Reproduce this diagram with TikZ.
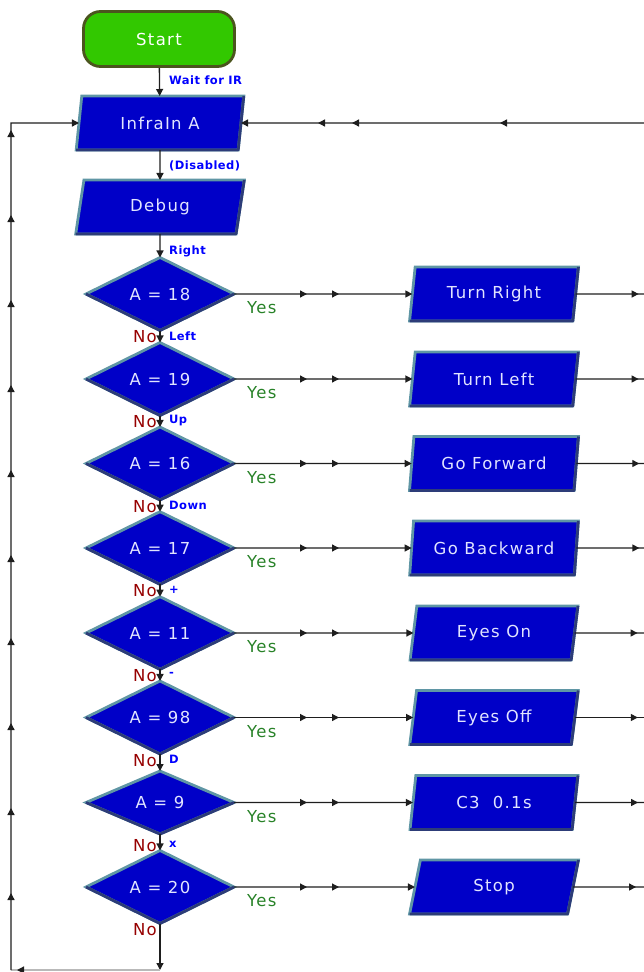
\documentclass[tikz,border=0pt]{standalone}
\usepackage{fontspec}
\setmainfont{DejaVu Sans}
\newfontfamily\boxfont[LetterSpace=8]{DejaVu Sans}
\newfontfamily\lblfont[LetterSpace=4]{DejaVu Sans}
\usetikzlibrary{shapes.geometric,arrows.meta,decorations.markings}

\definecolor{boxfill}{RGB}{0,0,200}
\definecolor{boxedge}{RGB}{95,150,165}
\definecolor{boxdark}{RGB}{45,60,120}
\definecolor{boxtext}{RGB}{225,228,255}
\definecolor{startfill}{RGB}{50,200,0}
\definecolor{startedge}{RGB}{75,85,30}
\definecolor{lblblue}{RGB}{0,0,255}
\definecolor{nored}{RGB}{150,0,0}
\definecolor{yesgreen}{RGB}{40,130,40}
\definecolor{wirecol}{RGB}{30,30,30}
\definecolor{wiregrey}{RGB}{185,185,185}

\tikzset{
  >={Triangle[length=7pt,width=7pt]},
  bigtext/.style={font=\boxfont\fontsize{16.5}{19}\selectfont},
  startbox/.style={rectangle, rounded corners=17pt, fill=startfill, draw=startedge,
    line width=2.8pt, minimum width=151pt, minimum height=55pt, text=white, bigtext},
  iobox/.style={trapezium, trapezium left angle=81, trapezium right angle=99,
    trapezium stretches=true, fill=boxfill, draw=boxedge, line width=2.8pt,
    minimum width=169pt, minimum height=54pt, outer sep=0pt, text=boxtext, bigtext},
  decision/.style={diamond, fill=boxfill, draw=boxedge, line width=2.8pt,
    minimum width=148pt, minimum height=63pt, inner sep=0pt, outer sep=0pt,
    text=boxtext, bigtext},
  wire/.style={draw=wirecol, line width=1.3pt},
  bevel/.style={draw=boxdark, line width=2.8pt, line join=round},
  lbl/.style={font=\lblfont\bfseries\fontsize{11.5}{13}\selectfont, text=lblblue,
    anchor=west, inner sep=0pt},
  nolbl/.style={bigtext, text=nored, anchor=east, inner sep=0pt},
  yeslbl/.style={bigtext, text=yesgreen, anchor=west, inner sep=0pt},
}

\begin{document}
\begin{tikzpicture}[x=1pt,y=-1pt]
\useasboundingbox (0,0) rectangle (644,972);

% main column
\node[startbox] (start) at (159,39) {Start};
\node[iobox] (infra) at (160,123) {InfraIn A};
\node[iobox] (debug) at (160,207) {Debug};

\node[decision] (d1) at (160,294) {A = 18};
\node[decision] (d2) at (160,379) {A = 19};
\node[decision] (d3) at (160,463.5) {A = 16};
\node[decision] (d4) at (160,548) {A = 17};
\node[decision] (d5) at (160,633) {A = 11};
\node[decision] (d6) at (160,717.5) {A = 98};
\node[decision] (d7) at (160,802.5) {A = 9};
\node[decision] (d8) at (160,887) {A = 20};

\node[iobox] (b1) at (494,294) {Turn Right};
\node[iobox] (b2) at (494,379) {Turn Left};
\node[iobox] (b3) at (494,463.5) {Go Forward};
\node[iobox] (b4) at (494,548) {Go Backward};
\node[iobox] (b5) at (494,633) {Eyes On};
\node[iobox] (b6) at (494,717.5) {Eyes Off};
\node[iobox] (b7) at (494,802.5) {C3\ \ 0.1s};
\node[iobox] (b8) at (494,887) {Stop};

% bevel shading
\foreach \n in {infra,debug,b1,b2,b3,b4,b5,b6,b7,b8}
  \draw[bevel] (\n.top right corner) -- (\n.bottom right corner) -- (\n.bottom left corner);
\foreach \n in {d1,d2,d3,d4,d5,d6,d7,d8}
  \draw[bevel] (\n.east) -- (\n.south) -- (\n.west);

% coordinates for free ends
\coordinate (re1) at (644,294);
\coordinate (re2) at (644,379);
\coordinate (re3) at (644,463.5);
\coordinate (re4) at (644,548);
\coordinate (re5) at (644,633);
\coordinate (re6) at (644,717.5);
\coordinate (re7) at (644,802.5);
\coordinate (re8) at (644,887);
\coordinate (tr) at (644,123);
\coordinate (bot) at (160,970);
\coordinate (bl) at (11,970);
\coordinate (tl) at (11,123);

% vertical flow
\draw[wire,->] (start) -- (infra);
\draw[wire,->] (infra) -- (debug);
\draw[wire,->] (debug) -- (d1);
\draw[wire,->] (d1) -- (d2);
\draw[wire,->] (d2) -- (d3);
\draw[wire,->] (d3) -- (d4);
\draw[wire,->] (d4) -- (d5);
\draw[wire,->] (d5) -- (d6);
\draw[wire,->] (d6) -- (d7);
\draw[wire,->] (d7) -- (d8);
\draw[wire,->] (d8) -- (bot);

% yes branches
\foreach \i in {1,...,8} {
  \draw[wire,->, postaction={decorate}, decoration={markings,
      mark=at position 73pt with {\arrow{>}},
      mark=at position 105pt with {\arrow{>}}}] (d\i.east) -- (b\i.west);
  \draw[wire, postaction={decorate}, decoration={markings,
      mark=at position 63pt with {\arrow{>}}}] (b\i.east) -- (re\i);
}

% return line at the top
\draw[wire,->, postaction={decorate}, decoration={markings,
    mark=at position 144pt with {\arrow{>}},
    mark=at position 292pt with {\arrow{>}},
    mark=at position 326pt with {\arrow{>}}}] (tr) -- (infra.east);

% return line at the bottom and left
\draw[draw=wiregrey, line width=1.3pt, postaction={decorate}, decoration={markings,
    mark=at position 143pt with {\arrow[wirecol]{>}}}] (bot) -- (bl);
\draw[wire,->, postaction={decorate}, decoration={markings,
    mark=at position 77pt with {\arrow{>}},
    mark=at position 162pt with {\arrow{>}},
    mark=at position 247pt with {\arrow{>}},
    mark=at position 332pt with {\arrow{>}},
    mark=at position 415pt with {\arrow{>}},
    mark=at position 500pt with {\arrow{>}},
    mark=at position 585pt with {\arrow{>}},
    mark=at position 670pt with {\arrow{>}},
    mark=at position 755pt with {\arrow{>}},
    mark=at position 840pt with {\arrow{>}}}] (bl) -- (tl) -- (infra.west);

% connector labels
\node[lbl] (lw) at (169,80) {Wait for IR};
\node[lbl] (ldis) at (169,166) {(Disabled)};
\node[lbl] (l1) at (169,251) {Right};
\node[lbl] (l2) at (169,336) {Left};
\node[lbl] (l3) at (169,420.5) {Up};
\node[lbl] (l4) at (169,505) {Down};
\node[lbl] (l5) at (169,590) {+};
\node[lbl] (l6) at (169,674.5) {-};
\node[lbl] (l7) at (169,759.5) {D};
\node[lbl] (l8) at (169,844) {x};

\node[nolbl] (n1) at (157,337) {No};
\node[nolbl] (n2) at (157,422) {No};
\node[nolbl] (n3) at (157,506.5) {No};
\node[nolbl] (n4) at (157,591) {No};
\node[nolbl] (n5) at (157,676) {No};
\node[nolbl] (n6) at (157,760.5) {No};
\node[nolbl] (n7) at (157,845.5) {No};
\node[nolbl] (n8) at (157,930) {No};

\node[yeslbl] (y1) at (247,308) {Yes};
\node[yeslbl] (y2) at (247,393) {Yes};
\node[yeslbl] (y3) at (247,477.5) {Yes};
\node[yeslbl] (y4) at (247,562) {Yes};
\node[yeslbl] (y5) at (247,647) {Yes};
\node[yeslbl] (y6) at (247,731.5) {Yes};
\node[yeslbl] (y7) at (247,816.5) {Yes};
\node[yeslbl] (y8) at (247,901) {Yes};
\end{tikzpicture}
\end{document}
